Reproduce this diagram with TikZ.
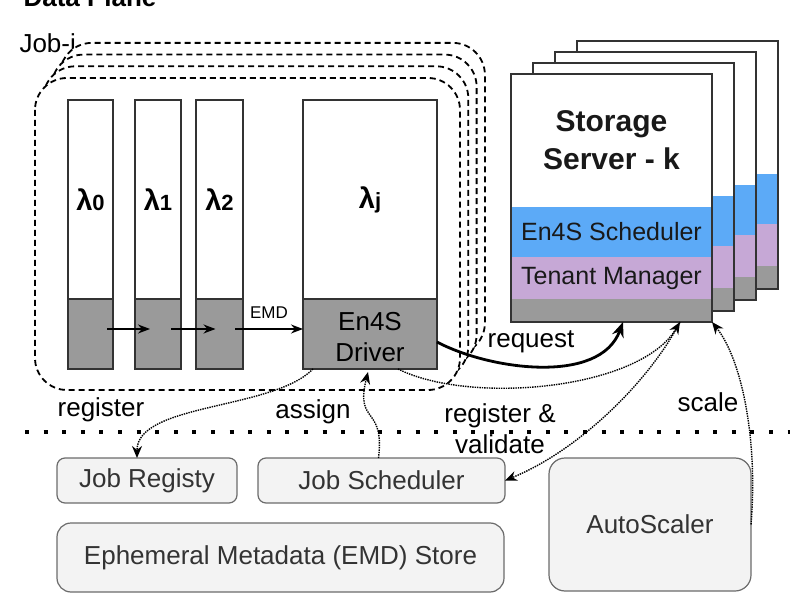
\documentclass[tikz,border=0pt]{standalone}
\usepackage{fontspec}
\setmainfont{Liberation Sans}
\usetikzlibrary{arrows.meta}
\definecolor{schedblue}{HTML}{5CAAF7}
\definecolor{tenantpurple}{HTML}{C6A8D6}
\definecolor{basegray}{HTML}{9A9A9A}
\definecolor{boxfill}{HTML}{F3F3F3}
\definecolor{boxline}{HTML}{6B6B6B}
\definecolor{edge}{HTML}{333333}
\newcommand{\fsz}[2]{\fontsize{#1}{#2}\selectfont}
\tikzset{
  fn/.style={draw=edge, line width=1.5pt, inner sep=0pt, outer sep=0pt, anchor=north west},
  part/.style={inner sep=0pt, outer sep=0pt, anchor=north west, minimum width=201pt, font=\fsz{25}{30}, text=black!90},
  svc/.style={draw=boxline, fill=boxfill, line width=1.2pt, rounded corners=8pt, anchor=north west,
    inner sep=0pt, outer sep=0pt, font=\fsz{26}{30}, text=edge},
  lbl/.style={font=\fsz{26}{31}, align=center, inner sep=0pt},
  jobline/.style={dash pattern=on 6pt off 4pt, line width=1.8pt, rounded corners=32pt},
  flow/.style={densely dotted, line width=1.4pt, -{Stealth[length=12pt,width=10pt]}},
  emdflow/.style={line width=1.5pt, -{Stealth[length=12pt,width=9pt]}}
}
\begin{document}
\begin{tikzpicture}[x=1pt,y=-1pt]
  \useasboundingbox (0,0) rectangle (800,609);
  \node[anchor=base west, font=\fsz{26}{30}\bfseries] (title) at (20,7) {Data Plane};
  \node[anchor=base west, font=\fsz{26}{30}] (jobi) at (16,53) {Job-i};

  % job boxes, back to front
  \foreach \k in {3,2,1,0}
    \draw[jobline, fill=white] (35+8.3*\k,78-11.7*\k) rectangle (460+8.3*\k,390-11.7*\k);

  \foreach \n/\x/\w in {l0/68/45, l1/135/46, l2/196/47, lj/303/134} {
    \node[fn, fill=white, minimum width=\w pt, minimum height=199pt] (\n-top) at (\x,100) {};
    \node[fn, fill=basegray, minimum width=\w pt, minimum height=70pt] (\n-bot) at (\x,299) {};
  }
  \foreach \n/\s in {l0/0, l1/1, l2/2, lj/j}
    \node[font=\fsz{29}{30}\bfseries, inner sep=0pt] (\n-lbl) at (\n-top) {λ\fsz{22}{30}\s};
  \node[lbl] (drv) at ([yshift=-3pt]lj-bot) {En4S\\Driver};

  \draw[emdflow] ([xshift=-6pt,yshift=5pt]l0-bot.east) -- ([xshift=-8pt,yshift=5pt]l1-bot.center);
  \draw[emdflow] ([xshift=-10pt,yshift=5pt]l1-bot.east) -- ([xshift=-4pt,yshift=5pt]l2-bot.center);
  \draw[emdflow] ([xshift=-8pt,yshift=5pt]l2-bot.east) -- ([yshift=5pt]lj-bot.west)
    node[midway, above=7pt, font=\fsz{17}{20}, inner sep=3pt] (emd-lbl) {EMD};

  % storage servers, back ones first
  \foreach \k in {3,2,1} {
    \begin{scope}[shift={(22*\k,-11*\k)}]
      \fill[white] (511,74) rectangle (712,207);
      \fill[schedblue] (511,207) rectangle (712,257);
      \fill[tenantpurple] (511,257) rectangle (712,299);
      \fill[basegray] (511,299) rectangle (712,322);
      \draw[edge, line width=1.3pt] (511,74) rectangle (712,322);
    \end{scope}
  }
  \node[part, fill=white, minimum height=133pt, align=center, font=\fsz{30}{38}\bfseries] (srv-top) at (511,74) {Storage\\Server - k};
  \node[part, fill=schedblue, minimum height=50pt] (srv-sched) at (511,207) {En4S Scheduler};
  \node[part, fill=tenantpurple, minimum height=42pt] (srv-ten) at (511,257) {Tenant Manager};
  \node[part, fill=basegray, minimum height=23pt] (srv-base) at (511,299) {};
  \node[part, draw=edge, line width=1.3pt, minimum height=248pt] (srv) at (511,74) {};

  % control plane
  \draw[line width=4pt, dash pattern=on 4pt off 14.6pt] (25,432) -- (790,432);
  \node[svc, minimum width=180pt, minimum height=45pt] (jreg) at (57,458) {Job Registy};
  \node[svc, minimum width=247pt, minimum height=45pt] (jsch) at (258,458) {Job Scheduler};
  \node[svc, minimum width=447pt, minimum height=69pt, rounded corners=14pt] (emd) at (57,523) {Ephemeral Metadata (EMD) Store};
  \node[svc, minimum width=202pt, minimum height=133pt, rounded corners=16pt] (auto) at (549,458) {AutoScaler};

  \draw[line width=2.8pt, -{Stealth[length=15pt,width=12pt]}] ([yshift=-8pt]lj-bot.east)
    .. controls (490,370) and (600,385) .. ([xshift=11.5pt]srv-base.south);
  \draw[flow] ([xshift=10pt]lj-bot.south west) .. controls (273,410) and (137,403) .. ([xshift=-10pt]jreg.north);
  \draw[flow] ([xshift=-3pt]jsch.north) .. controls (385,405) and (355,425) .. ([xshift=-2pt,yshift=-3pt]lj-bot.south);
  \draw[flow] ([xshift=28pt]lj-bot.south) .. controls (470,405) and (640,390) .. ([xshift=68.5pt]srv-base.south);
  \draw[flow] ([xshift=68.5pt]srv-base.south) .. controls (650,380) and (580,450) .. (jsch.east);
  \draw[flow] (auto.east) .. controls (758,440) and (742,360) .. (srv-base.south east);

  \node[lbl] (req-lbl) at (531,342) {request};
  \node[lbl] (reg-lbl) at (101,410) {register};
  \node[lbl] (asg-lbl) at (313,412) {assign};
  \node[lbl] (val-lbl) at (500,429) {register \&\\validate};
  \node[lbl] (scl-lbl) at (708,402) {scale};
\end{tikzpicture}
\end{document}
